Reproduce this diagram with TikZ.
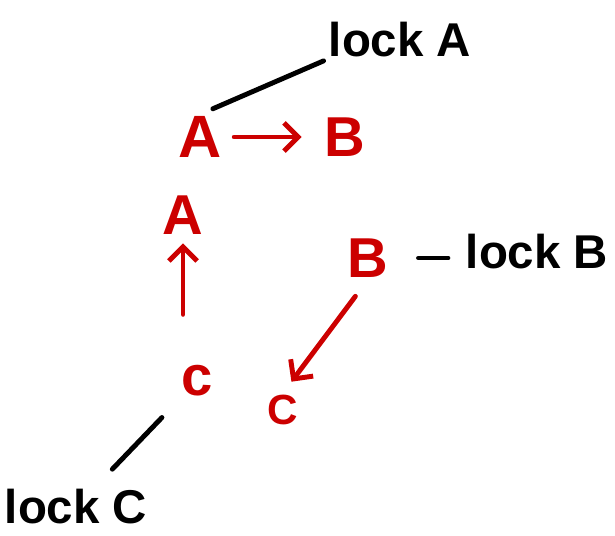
\documentclass[tikz,border=0pt]{standalone}
\usepackage{fontspec}
\setmainfont{Liberation Sans}
\usetikzlibrary{arrows.meta,calc}
\definecolor{ink}{RGB}{204,0,0}
\begin{document}
\begin{tikzpicture}[x=0.02cm,y=-0.02cm,
  redlet/.style={text=ink, font=\fontsize{32}{32}\selectfont\bfseries, inner sep=1pt},
  lab/.style={text=black, font=\fontsize{27}{27}\selectfont\bfseries, inner sep=1pt},
  redarr/.style={draw=ink, line width=2.8pt, line cap=round, -{Straight Barb[length=8pt,width=16pt,line width=2.8pt]}},
  blk/.style={draw=black, line width=2.8pt, line cap=round}]
\useasboundingbox (0,0) rectangle (615,536);
% red letters
\node[redlet, font=\fontsize{34}{34}\selectfont\bfseries] (A1) at (200,137) {A};
\node[redlet] (B1) at (345,137) {B};
\node[redlet] (A2) at (183,215) {A};
\node[redlet] (B2) at (368,258) {B};
\node[redlet] (c1) at (197,381) {c};
\node[redlet, font=\fontsize{24}{24}\selectfont\bfseries] (C2) at (283,410) {C};
% black labels
\node[lab] (lA) at (400,40) {lock A};
\node[lab] (lB) at (537,252) {lock B};
\node[lab] (lC) at (76,507) {lock C};
% red arrows
\draw[redarr, shorten <=6pt, shorten >=12pt] (A1.east) -- (B1.west);
\draw[redarr, shorten <=28pt, shorten >=4pt] (c1.north -| A2.south) -- (A2.south);
\draw[redarr, shorten <=12pt, shorten >=8pt] (B2.south) -- (C2.north);
% black connectors
\draw[blk, shorten <=2pt, shorten >=8pt] (lA.south west) -- (A1.north);
\draw[blk, shorten <=16pt, shorten >=9pt] (B2.east) -- (B2.east -| lB.west);
\draw[blk] ($(c1)!0.29!(lC)$) -- ($(c1)!0.70!(lC)$);
\end{tikzpicture}
\end{document}
